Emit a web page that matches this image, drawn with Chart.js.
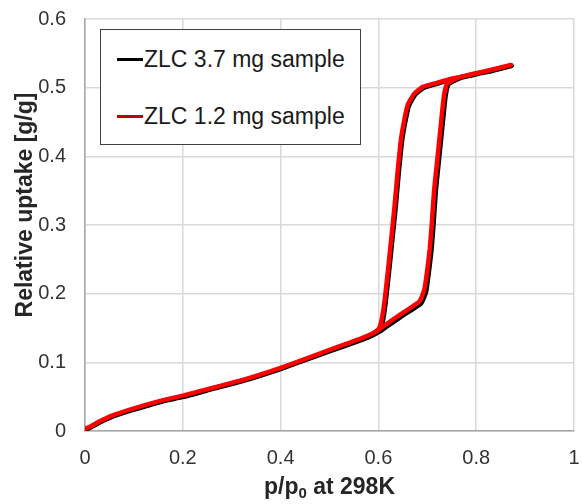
<!DOCTYPE html>
<html>
<head>
<meta charset="utf-8">
<script src="https://cdn.jsdelivr.net/npm/chart.js@4"></script>
<style>
  html, body { margin: 0; padding: 0; background: #fff; }
  #wrap { position: relative; width: 582px; height: 504px; }
  #legenda {
    position: absolute; left: 100px; top: 29px; width: 259px; height: 114px;
    border: 1.5px solid #404040; background: #fff;
    font-family: "Liberation Sans", Arial, sans-serif; font-size: 23px; color: #1a1a1a;
  }
  .voce { position: absolute; left: 16px; height: 30px; line-height: 30px; white-space: nowrap; }
  .voce span.linea { display: inline-block; width: 26px; height: 3px; vertical-align: middle; margin-right: 1px; position: relative; top: -1px; }
</style>
</head>
<body>
<div id="wrap">
  <canvas id="isoChart" width="582" height="504"></canvas>
  <div id="legenda">
    <div class="voce" style="top:14px"><span class="linea" style="background:#000"></span>ZLC 3.7 mg sample</div>
    <div class="voce" style="top:71px"><span class="linea" style="background:#c00000"></span>ZLC 1.2 mg sample</div>
  </div>
</div>
<script>
// --- DATI ---
const xTickLabels = ['0', '0.2', '0.4', '0.6', '0.8', '1'];
const yTickLabels = ['0', '0.1', '0.2', '0.3', '0.4', '0.5', '0.6'];

// campione 1.2 mg (rosso) - adsorbimento poi desorbimento
const sample12P = [0, 0.012, 0.03, 0.058, 0.092, 0.126, 0.16, 0.2, 0.262, 0.33, 0.4, 0.466, 0.534, 0.565, 0.588, 0.600, 0.615, 0.65, 0.684, 0.694, 0.700, 0.705, 0.709, 0.714, 0.721, 0.728, 0.734, 0.741, 0.765, 0.799, 0.833, 0.871,
                   0.83, 0.79, 0.75, 0.72, 0.69, 0.673, 0.66, 0.653, 0.646, 0.639, 0.633, 0.626, 0.619, 0.612, 0.606, 0.600, 0.588];
const sample12U = [0.003, 0.007, 0.014, 0.023, 0.031, 0.0385, 0.045, 0.0516, 0.063, 0.076, 0.092, 0.109, 0.127, 0.135, 0.142, 0.147, 0.155, 0.172, 0.189, 0.206, 0.235, 0.265, 0.300, 0.351, 0.399, 0.448, 0.488, 0.506, 0.515, 0.521, 0.526, 0.533,
                   0.526, 0.519, 0.513, 0.507, 0.501, 0.491, 0.475, 0.453, 0.424, 0.375, 0.327, 0.278, 0.230, 0.186, 0.160, 0.148, 0.142];

// campione 3.7 mg (nero)
const sample37P = [0, 0.013, 0.031, 0.059, 0.093, 0.127, 0.161, 0.201, 0.263, 0.331, 0.401, 0.467, 0.535, 0.566, 0.589, 0.602, 0.618, 0.653, 0.687, 0.697, 0.703, 0.708, 0.712, 0.717, 0.724, 0.731, 0.737, 0.743, 0.766, 0.8, 0.834, 0.872,
                   0.83, 0.79, 0.75, 0.72, 0.692, 0.675, 0.662, 0.655, 0.648, 0.641, 0.635, 0.628, 0.621, 0.614, 0.608, 0.602, 0.589];
const sample37U = [0.002, 0.006, 0.013, 0.022, 0.030, 0.037, 0.044, 0.050, 0.062, 0.075, 0.091, 0.108, 0.125, 0.133, 0.140, 0.145, 0.153, 0.170, 0.186, 0.203, 0.233, 0.263, 0.298, 0.350, 0.399, 0.448, 0.488, 0.505, 0.514, 0.520, 0.525, 0.532,
                   0.525, 0.518, 0.512, 0.506, 0.500, 0.490, 0.474, 0.452, 0.423, 0.375, 0.327, 0.278, 0.230, 0.185, 0.158, 0.146, 0.140];

function punti(xs, ys) {
    return xs.map((x, i) => ({ x: x, y: ys[i] }));
}

// --- TITOLI ASSI (con pedice) ---
const titoliAssi = {
    id: 'titoliAssi',
    afterDraw(chart) {
        const c = chart.ctx;
        c.save();
        c.fillStyle = '#262626';
        c.textBaseline = 'middle';
        // asse x: p/p0 at 298K
        const big = 'bold 23px "Liberation Sans", Arial, sans-serif';
        const small = 'bold 15px "Liberation Sans", Arial, sans-serif';
        c.font = big;
        const w1 = c.measureText('p/p').width;
        const w3 = c.measureText(' at 298K').width;
        c.font = small;
        const w2 = c.measureText('0').width;
        const cx = (chart.chartArea.left + chart.chartArea.right) / 2;
        let x = cx - (w1 + w2 + w3) / 2;
        const y = 488;
        c.textAlign = 'left';
        c.font = big;
        c.fillText('p/p', x, y);
        c.font = small;
        c.fillText('0', x + w1, y + 6);
        c.font = big;
        c.fillText(' at 298K', x + w1 + w2, y);
        // asse y
        c.translate(26, 205);
        c.rotate(-Math.PI / 2);
        c.textAlign = 'center';
        c.fillText('Relative uptake [g/g]', 0, 0);
        c.restore();
    }
};

const ctx = document.getElementById('isoChart').getContext('2d');
const isoChart = new Chart(ctx, {
    type: 'scatter',
    data: {
        datasets: [{
            label: 'ZLC 3.7 mg sample',
            data: punti(sample37P, sample37U),
            showLine: true,
            order: 2,
            borderColor: '#000000',
            borderWidth: 5,
            pointRadius: 0,
            tension: 0.15,
            borderCapStyle: 'round',
            borderJoinStyle: 'round'
        }, {
            label: 'ZLC 1.2 mg sample',
            data: punti(sample12P, sample12U),
            showLine: true,
            order: 1,
            borderColor: '#ff0000',
            borderWidth: 4.5,
            pointRadius: 0,
            tension: 0.15,
            borderCapStyle: 'round',
            borderJoinStyle: 'round'
        }]
    },
    options: {
        responsive: false,
        animation: false,
        layout: { padding: { top: 19, right: 8, left: 0, bottom: 0 } },
        plugins: {
            legend: { display: false },
            tooltip: { enabled: false }
        },
        scales: {
            x: {
                type: 'linear',
                min: 0, max: 1,
                afterFit: s => { s.height = 73; s.paddingLeft = 0; s.paddingRight = 0; },
                afterBuildTicks: s => { s.ticks = xTickLabels.map(t => ({ value: parseFloat(t) })); },
                grid: { color: '#d9d9d9', lineWidth: 1.5, drawTicks: false },
                border: { color: '#a6a6a6', width: 1.5 },
                ticks: {
                    padding: 15,
                    color: '#333333',
                    font: { family: '"Liberation Sans", Arial, sans-serif', size: 20 },
                    callback: (v, i) => xTickLabels[i]
                }
            },
            y: {
                type: 'linear',
                min: 0, max: 0.6,
                afterFit: s => { s.width = 85; s.paddingTop = 0; s.paddingBottom = 0; },
                afterBuildTicks: s => { s.ticks = yTickLabels.map(t => ({ value: parseFloat(t) })); },
                grid: { color: '#d9d9d9', lineWidth: 1.5, drawTicks: false },
                border: { color: '#a6a6a6', width: 1.5 },
                ticks: {
                    padding: 19,
                    color: '#333333',
                    font: { family: '"Liberation Sans", Arial, sans-serif', size: 20 },
                    callback: (v, i) => yTickLabels[i]
                }
            }
        }
    },
    plugins: [titoliAssi]
});
</script>
</body>
</html>
